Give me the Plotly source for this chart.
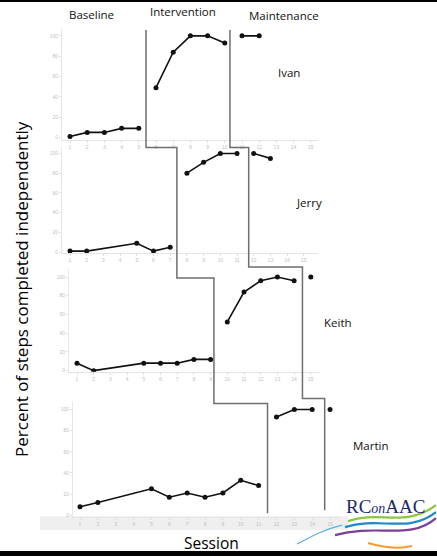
import plotly.graph_objects as go

W, H = 437, 558

# ---------------- data ----------------
sessions = list(range(1, 16))
y_ticks = [0, 20, 40, 60, 80, 100]
participants = ["Ivan", "Jerry", "Keith", "Martin"]
phase_titles = ["Baseline", "Intervention", "Maintenance"]

ivan_base_x = [1, 2, 3, 4, 5]
ivan_base_y = [1, 5, 5, 9, 9]
ivan_int_x = [6, 7, 8, 9, 10]
ivan_int_y = [49, 84, 100, 100, 93]
ivan_maint_x = [11, 12]
ivan_maint_y = [100, 100]

jerry_base_x = [1, 2, 5, 6, 7]
jerry_base_y = [1, 1, 9, 1, 5]
jerry_int_x = [8, 9, 10, 11]
jerry_int_y = [80, 91, 100, 100]
jerry_maint_x = [12, 13]
jerry_maint_y = [100, 95]

keith_base_x = [1, 2, 5, 6, 7, 8, 9]
keith_base_y = [8, 0, 8, 8, 8, 12, 12]
keith_int_x = [10, 11, 12, 13, 14]
keith_int_y = [52, 84, 96, 100, 96]
keith_maint_x = [15]
keith_maint_y = [100]

martin_base_x = [1, 2, 5, 6, 7, 8, 9, 10, 11]
martin_base_y = [8, 12, 25, 17, 21, 17, 21, 33, 28]
martin_int_x = [12, 13, 14]
martin_int_y = [93, 100, 100]
martin_maint_x = [15]
martin_maint_y = [100]

# phase-change positions (in sessions) for each participant
phase_int = [5.42, 7.4, 9.2, 11.5]
phase_maint = [10.3, 11.7, 14.5, 14.7]

series = [
    [(ivan_base_x, ivan_base_y), (ivan_int_x, ivan_int_y), (ivan_maint_x, ivan_maint_y)],
    [(jerry_base_x, jerry_base_y), (jerry_int_x, jerry_int_y), (jerry_maint_x, jerry_maint_y)],
    [(keith_base_x, keith_base_y), (keith_int_x, keith_int_y), (keith_maint_x, keith_maint_y)],
    [(martin_base_x, martin_base_y), (martin_int_x, martin_int_y), (martin_maint_x, martin_maint_y)],
]

# ---------------- panel geometry (pixels) ----------------
geom = [
    dict(p1=70, d=17.2, L=62, R=318, y0=138, y100=36, top=28, bottom=141),
    dict(p1=70, d=16.7, L=62, R=318, y0=253, y100=154, top=148, bottom=254),
    dict(p1=77, d=16.7, L=69, R=320, y0=372, y100=278, top=270, bottom=373),
    dict(p1=80, d=17.86, L=73, R=340, y0=517, y100=411, top=403, bottom=519),
]

def px2val(g, py):
    return (g["y0"] - py) / (g["y0"] - g["y100"]) * 100.0

def sess2paper(g, s):
    return (g["p1"] + (s - 1) * g["d"]) / W

fig = go.Figure()
tickfont = dict(family="Liberation Sans", size=5, color="#c0c0c0")

for i, g in enumerate(geom):
    n = "" if i == 0 else str(i + 1)
    xa, ya = "x" + n, "y" + n
    for (xs, ys) in series[i]:
        fig.add_trace(go.Scatter(
            x=xs, y=ys, xaxis=xa, yaxis=ya, mode="lines+markers",
            line=dict(color="#111111", width=1.6),
            marker=dict(color="#111111", size=5),
            showlegend=False, hoverinfo="skip"))
    xr = [1 + (g["L"] - g["p1"]) / g["d"], 1 + (g["R"] - g["p1"]) / g["d"]]
    yr = [px2val(g, g["bottom"]), px2val(g, g["top"])]
    fig.layout["xaxis" + n] = dict(
        domain=[g["L"] / W, g["R"] / W], range=xr, anchor=ya,
        tickmode="array", tickvals=sessions, ticktext=[str(s) for s in sessions],
        tickfont=tickfont, ticks="outside", ticklen=2, tickcolor="#e0e0e0",
        showline=True, linecolor="#e4e4e4", linewidth=1, showgrid=False, zeroline=False)
    fig.layout["yaxis" + n] = dict(
        domain=[1 - g["bottom"] / H, 1 - g["top"] / H], range=yr, anchor=xa,
        tickmode="array", tickvals=y_ticks, ticktext=[str(v) for v in y_ticks],
        tickfont=tickfont, ticks="outside", ticklen=2, tickcolor="#e0e0e0",
        showline=True, linecolor="#e8e8e8", linewidth=1, showgrid=False, zeroline=False)

# ---------------- phase-change lines ----------------
def step_path(positions, joints):
    xs = [sess2paper(g, s) for g, s in zip(geom, positions)]
    ys = [1 - j / H for j in joints]
    d = f"M {xs[0]},{ys[0]}"
    for k in range(len(xs)):
        d += f" L {xs[k]},{ys[k + 1]}"
        if k + 1 < len(xs):
            d += f" L {xs[k + 1]},{ys[k + 1]}"
    return d

int_joints = [30, 148, 279, 405, 515]
maint_joints = [30, 148, 268, 400, 512]
shapes = []
for pos, joints in [(phase_int, int_joints), (phase_maint, maint_joints)]:
    shapes.append(dict(type="path", xref="paper", yref="paper", path=step_path(pos, joints),
                       line=dict(color="#6e6e6e", width=1.5)))

# Martin's grey tick band
shapes.append(dict(type="rect", xref="paper", yref="paper", x0=40 / W, x1=348 / W,
                   y0=1 - 532 / H, y1=1 - 518 / H, fillcolor="#efefef", line=dict(width=0), layer="below"))
# black frame pieces
shapes.append(dict(type="rect", xref="paper", yref="paper", x0=0, x1=1, y0=1 - 2 / H, y1=1,
                   fillcolor="black", line=dict(width=0)))
shapes.append(dict(type="rect", xref="paper", yref="paper", x0=0, x1=1, y0=0, y1=1 - 553 / H,
                   fillcolor="black", line=dict(width=0)))

# logo swooshes
def bez(p0, c1, c2, p1):
    f = lambda p: f"{p[0] / W},{1 - p[1] / H}"
    return f"M {f(p0)} C {f(c1)} {f(c2)} {f(p1)}"

swooshes = [
    (bez((297, 546), (312, 538), (325, 531), (342, 527)), "#5ab0e0", 1.2),
    (bez((348, 523), (380, 512), (405, 530), (436, 507)), "#8cc63f", 2.2),
    (bez((345, 529), (380, 518), (408, 536), (436, 514)), "#1e88c8", 2.2),
    (bez((335, 537), (378, 525), (410, 543), (436, 520)), "#7b3f98", 2.2),
    (bez((368, 545), (385, 550), (400, 551), (412, 548)), "#f39c34", 2.2),
]
for p, c, w in swooshes:
    shapes.append(dict(type="path", xref="paper", yref="paper", path=p, line=dict(color=c, width=w)))

fig.update_layout(shapes=shapes)

# ---------------- text ----------------
ann = []
lab_font = dict(family="Open Sans", size=11.5, color="#111111")
for t, x, y in zip(phase_titles, [91, 183, 284], [15, 12, 16]):
    ann.append(dict(text=t, x=x / W, y=1 - y / H, xref="paper", yref="paper",
                    showarrow=False, font=lab_font, xanchor="center", yanchor="middle"))
for t, x, y in zip(participants, [289, 309, 338, 371], [73, 203, 324, 447]):
    ann.append(dict(text=t, x=x / W, y=1 - y / H, xref="paper", yref="paper",
                    showarrow=False, font=lab_font, xanchor="center", yanchor="middle"))
ann.append(dict(text="Percent of steps completed independently", x=22 / W, y=1 - 290 / H,
                xref="paper", yref="paper", showarrow=False, textangle=-90,
                font=dict(family="Open Sans", size=17, color="#000000"),
                xanchor="center", yanchor="middle"))
ann.append(dict(text="Session", x=211 / W, y=1 - 545 / H, xref="paper", yref="paper",
                showarrow=False, font=dict(family="Open Sans", size=15.5, color="#000000"),
                xanchor="center", yanchor="middle"))
ann.append(dict(text="RC<span style='font-size:14px'><i>on</i></span>AAC", x=385 / W, y=1 - 508 / H,
                xref="paper", yref="paper", showarrow=False,
                font=dict(family="Liberation Serif", size=19, color="#1b2a6b"),
                xanchor="center", yanchor="middle"))
fig.update_layout(annotations=ann)

fig.update_layout(width=W, height=H, margin=dict(l=0, r=0, t=0, b=0),
                  paper_bgcolor="white", plot_bgcolor="white", showlegend=False)

fig.write_html("out.html", config={"displayModeBar": False},
               post_script="document.body.style.margin='0';document.body.style.overflow='hidden';")
